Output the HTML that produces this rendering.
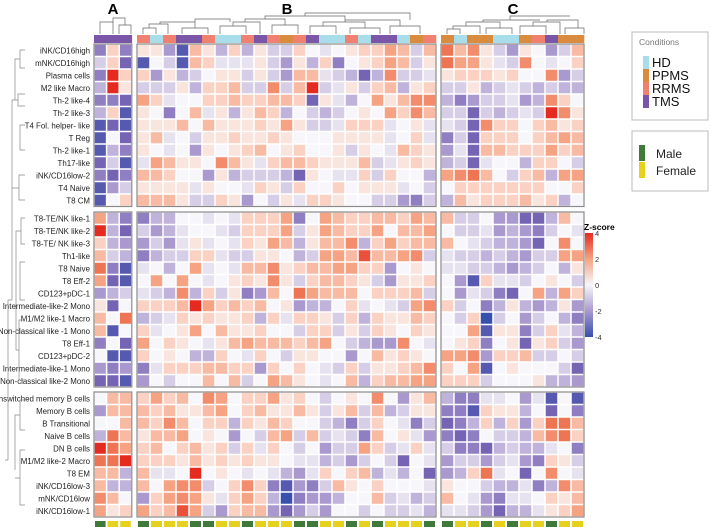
<!DOCTYPE html>
<html><head><meta charset="utf-8"><style>
body{margin:0;background:#fff;width:711px;height:529px;overflow:hidden;font-family:"Liberation Sans",sans-serif}
svg{display:block}
</style></head><body>
<svg id="chart" width="711" height="529" xmlns="http://www.w3.org/2000/svg"></svg>
<script>
const rowLabels=[["iNK/CD16high","mNK/CD16high","Plasma cells","M2 like Macro","Th-2 like-4","Th-2 like-3","T4 Fol. helper- like","T Reg","Th-2 like-1","Th17-like","iNK/CD16low-2","T4 Naive","T8 CM"],
["T8-TE/NK like-1","T8-TE/NK like-2","T8-TE/ NK like-3","Th1-like","T8 Naive","T8 Eff-2","CD123+pDC-1","Intermediate-like-2 Mono","M1/M2 like-1 Macro","Non-classical like -1 Mono","T8 Eff-1","CD123+pDC-2","Intermediate-like-1 Mono","Non-classical like-2 Mono"],
["Unswitched memory B cells","Memory B cells","B Transitional","Naive B cells","DN B cells","M1/M2 like-2 Macro","T8 EM","iNK/CD16low-3","mNK/CD16low","iNK/CD16low-1"]];
const condA=["TMS","TMS","TMS"];
const condB=["RRMS","HD","RRMS","TMS","TMS","RRMS","HD","HD","RRMS","TMS","RRMS","PPMS","RRMS","TMS","HD","HD","RRMS","HD","TMS","TMS","HD","PPMS","RRMS"];
const condC=["PPMS","HD","PPMS","PPMS","HD","HD","PPMS","RRMS","TMS","PPMS","PPMS"];
const sexA=["M","F","F"];
const sexB=["M","F","F","F","M","M","F","F","M","F","F","F","M","M","F","F","M","F","M","F","F","F","M"];
const sexC=["M","F","F","M","F","M","F","F","M","F","F"];
const zA1=[[-2.5,1,-2.5],[-1,1,-3],[-2.5,4,1],[-1.5,4,0.5],[-2.5,-2.5,-3],[-1.5,1,-3.5],[-3.5,-3,-3.5],[-3.5,0,-3],[-3.5,-1.5,-2.5],[-3,-1,-3.5],[-2.5,-3,-2.5],[-3.5,-2,-1],[-3.5,0,1]];
const zB1=[[0.5,0.5,-2,-3.5,1.5,0.5,-1.5,1,-1.5,0.5,-1,-1,1,0,-0.5,0,0.5,1,1,2,1.5,-1,1.5],
[-3.5,0,-1,-3.5,1.5,1,-0.5,-0.5,-0.5,0.5,-1,-2,0.5,-1.5,1,-2.5,0,0.5,1,2,1.5,-1,0.5],
[1,-2,0.5,-1.5,-1,0,0.5,0.5,-1,0.5,-1,-2,1.5,1.5,-0.5,-1,-1.5,-3,-1.5,2.5,-1,-1,-0.5],
[-1,-1,-1,0.5,-1.5,1,1,1.5,-1,-1,2.5,-1,1.5,4,-1,-0.5,0.5,-1,1,1.5,-1.5,0.5,1],
[2,1,-0.5,0,0,1,1,1.5,1,1,1.5,1.5,1,-3,0.5,-0.5,-1.5,0,2,0.5,1.5,2.5,2.5],
[0.5,0,-2.5,0,1.5,-0.5,0.5,-1.5,0.5,1.5,1,-1.5,0,-1,-1.5,-1,0,0.5,0,2,1,2.5,1.5],
[0.5,0.5,0.5,1.5,0,1.5,0.5,0.5,0.5,1,0.5,2,0.5,-1,-1,-0.5,1,1,1,-0.5,0,0.5,-0.5],
[0.5,1.5,-0.5,0,-1,0.5,0.5,1,0.5,0.5,1,0.5,0,0,0,0.5,0.5,0.5,0.5,-0.5,0,1,-0.5],
[0.5,0,-0.5,0,-2,0.5,0,0.5,1,1.5,0,0.5,1,0,0,0.5,-1,0.5,0,-0.5,1.5,1,0.5],
[-0.5,2,1.5,0.5,0.5,0,2.5,1.5,0.5,-0.5,1,1.5,1.5,1,0.5,0.5,0.5,1.5,-1,-0.5,0.5,1,0.5],
[1.5,1.5,1,0,0,-2,0.5,-1.5,-1,-1,-1,-1.5,-3,0.5,0,-0.5,-0.5,1,-1,1,0,0,-1.5],
[0.5,0.5,0.5,0.5,-0.5,0.5,0,0,-0.5,1,0.5,-1,1,0,0,1,0,0.5,0.5,0.5,-0.5,0,-1],
[1.5,1.5,1.5,0.5,-1,-1,1,0.5,-2,0,-1,0.5,-0.5,1,1,0.5,0,0,-1,-1,-2,-2.5,-1]];
const zC1=[[3,1.5,2.5,0.5,-1,-2,0.5,0,-2,-1,1.5],[3,2,2,0.5,-0.5,-1,2.5,0,-0.5,0,1],[0.5,1,1,1,0.5,1,0,0,2.5,-2,-1],[-1,-1,0.5,-1.5,-1,-0.5,-1,-1.5,-1,-1.5,-1.5],[-1.5,-2.5,-2,-1,-1,-0.5,-2,-1.5,2.5,1,0],[-1,-1,-3,-1,-1.5,-1,-0.5,-1,4,2.5,0.5],[-0.5,-1,-3,2.5,1,1,0,1,1.5,0.5,1],[-2.5,-1,-3,1,1,1,0,1,1.5,2,1.5],[-2,-0.5,-3,1.5,1.5,1,1,1,2,1,1.5],[-1.5,-1,-3,-0.5,0,0,-1.5,1,1,0,-1],[2,2.5,3,1.5,0,-1,1,1.5,-1.5,2,2],[0,1,1,1,1,1,1,1,0,0,1],[-1.5,1.5,0.5,1,1,1,1.5,0.5,1,-1.5,0]];
const zA2=[[2,-1.5,-2.5],[4,-1.5,-3],[1,-1.5,-2],[1.5,-1,-1.5],[3,-2.5,-3.5],[2,-3,-3.5],[-2,-1.5,-1],[0.5,-3,0],[1.5,0,3],[1.5,-3.5,0],[-2.5,0,-3],[0,-3.5,-3.5],[-2,-2.5,-2],[-3,-3,-3.5]];
const zB2=[[-2.5,-1.5,-1.5,0,0,-0.5,0,-0.5,1,1,1,2,-2.5,0,2,1.5,1,1,1.5,1.5,1,2,1.5],
[-1,-2,-1.5,-0.5,0,0,-0.5,-1,1,1,1,2,-1,0.5,2,1.5,1,1,2,0,1.5,1.5,2],
[-2,-1,-2,-0.5,0.5,-0.5,0,-0.5,1,0.5,2,1.5,-1.5,0.5,1.5,1.5,2.5,-1.5,1,2,1,1.5,1.5],
[-2.5,-1.5,-1,-1,1,1,-0.5,-1,-1,0.5,0.5,0,-1.5,-1,2,2,1.5,3.5,1.5,1.5,2,2.5,-1],
[-0.5,0,-1.5,0,2,-0.5,0,-0.5,1.5,1.5,2.5,0.5,1,1.5,1.5,2,2,1,1,-2,0,0.5,0],
[0,2,0,2,0,-0.5,0,0.5,1,0.5,2.5,0.5,-1,1,1.5,1.5,1,0.5,-1,-2,0.5,0.5,1],
[-0.5,-1,-1.5,2.5,-1.5,1,-1,0.5,-2.5,-2,1.5,0,3,2,1.5,1.5,1.5,0,1,1,1,1.5,-1],
[1,1,1,1.5,4,2,1,1.5,1,1.5,0,0.5,-2,-1.5,-1.5,0,1,-0.5,0,-0.5,-1,2,2.5],
[-1.5,-1,-0.5,1,0.5,1,0.5,0.5,1,-1.5,1,-0.5,1,1,0.5,-1,1,-1.5,1,0.5,0.5,1.5,1],
[1,-0.5,0,0.5,2,0,1.5,0.5,0.5,1,0,0,-1,1,1,-1,0.5,-1,1,0.5,0,1,0.5],
[2,0,1,0.5,0,-0.5,0.5,1.5,2,1.5,1.5,1.5,1,1.5,2,0,-1,-1.5,-2,-2,2.5,0,-0.5],
[1,0,0.5,0,-1.5,-1.5,1,0,-0.5,1,0,-1,0.5,0.5,0,0,-2,0,1.5,0.5,1,0.5,0],
[-2.5,-0.5,1,1,1,1.5,1.5,1,1,-2,1,0,1,0,-0.5,-1,1,-1,0.5,0.5,1,1.5,2.5],
[-2,0,-1,0,0,1.5,0,1.5,-1,0,2,1.5,0.5,0,-0.5,0,1.5,-1.5,1,1.5,1.5,2,2]];
const zC2=[[1.5,-1,-1,0,-2,-2,-3,-3,-1.5,1.5,0],[0,-1,-1,-0.5,-2,-1.5,-2,-2.5,-1,0,-0.5],[1.5,0,-0.5,-1,-1.5,-1.5,-2,-3,0,2.5,0],[-0.5,-1,-1,-1.5,-1,-1.5,-2,-1,-1,2,2],[-0.5,-0.5,-1,-1,-1.5,-2,-1.5,-1,0,-1.5,0.5],[0,-2,-3.5,1,-0.5,-0.5,-1,0,0.5,0,-1],[0,-2,-0.5,-1,-2.5,-3,0,2,-1.5,2,1],[1,-1,0,-2.5,-1.5,0.5,-1.5,-2,-1.5,0.5,-2],[0,-1,1,-4,-1,0,-2,-1,0,-1.5,-2.5],[0,0,2,-3.5,0.5,0.5,-2.5,-1,1,-0.5,-1.5],[0,0.5,1,-2.5,0,0.5,-3,0.5,1,-1,-2],[2,2,2.5,-2,1,1,1.5,-1,-1,0,-1],[1,0,2,-3.5,0,0.5,0,0,0,-1,-3],[1,1,1,-1,0,0,0,0.5,-1.5,-1.5,-2]];
const zA3=[[0,1.5,1.5],[-2,1.5,1.5],[0,0,1.5],[-1.5,3,1.5],[4,3,2],[3,3,4],[1.5,1.5,-1.5],[1.5,-1.5,-1.5],[2.5,1.5,0],[2,0.5,1]];
const zB3=[[1,2,1,1.5,0,2.5,2,0,1,1,2,0.5,1,0,-1,0,0.5,0,2.5,0,-2,0.5,1.5],
[1.5,1,1.5,0.5,0.5,1.5,2,0,1,1.5,0.5,0.5,1.5,0.5,-1,0.5,1.5,-1,1.5,-1.5,-1,0.5,0.5],
[1.5,1,2.5,1.5,0,1,1,-1.5,1,0.5,1.5,1,0,0,-1,-1.5,-2.5,-1,1,0,-0.5,-2.5,-1],
[0.5,1.5,1.5,2,0,0.5,0,-2,0,-1,1.5,2,-1,1.5,-1,-0.5,-1,-2.5,1.5,0,0.5,-0.5,-2],
[1,1.5,0,1,1.5,0.5,1,-1,1,-0.5,1,0,-1,0,-2,-1,-1,2,1,-1,-0.5,1,-0.5],
[1,1,1,0.5,1.5,0.5,1,0.5,1,0.5,0.5,0,-0.5,-0.5,-1.5,-1,-2,-1,0,-1,-3,0,-0.5],
[1.5,-0.5,-0.5,0,4,0,0.5,0,-0.5,0,-0.5,-1.5,-2,-0.5,1,0,1,1.5,-1.5,-0.5,-1.5,0,-3],
[1.5,0,2,2.5,2.5,-1,0,1,2.5,1,-2.5,-3.5,-2,-2.5,-1,1.5,0.5,0,1,0,0,0,-0.5],
[-2,1,2,2.5,2,0.5,-0.5,1,2,1,-1.5,-4,-2.5,-2,-2,-1.5,0,0,1.5,-1,-0.5,-1.5,-1],
[2,1,1.5,3.5,2,-1,-2,1,1.5,1.5,-2,-3,-2,-1,-2,0,0,-1,0,-1,-1,-0.5,-1.5]];
const zC3=[[-1.5,-2.5,-2.5,-0.5,-0.5,0,-2,-0.5,-3.5,0,-3.5],[-2.5,-2.5,-3.5,1,0.5,0.5,-1.5,0,-3,0,-2.5],[-3,-2.5,-1.5,1,-1.5,1,-2,1,3,3,1.5],[-2.5,-3,-2.5,0,-1,-1,-1.5,1.5,2.5,3,1],[-1,-2.5,-2.5,-3,-1.5,-1,-1.5,-1.5,-0.5,0,-2.5],[-2,-1,-1,-2,-1,-0.5,-2,-2.5,1,0.5,-1],[-2,-1.5,1,3,-0.5,0,-3,0,2.5,0,-0.5],[0.5,0,0,-1,-1.5,-1.5,-0.5,-2.5,-1.5,2.5,1.5],[1.5,0,-0.5,-2,-2.5,-0.5,-0.5,0,1,0.5,1.5],[-0.5,-0.5,-1,-2,-3,-1.5,-1.5,-0.5,0.5,1,2]];
const zTicks=[4,2,0,-2,-4];

const NS="http://www.w3.org/2000/svg";
const svg=document.getElementById('chart');
function mk(tag,attrs,parent){const e=document.createElementNS(NS,tag);for(const k in attrs)e.setAttribute(k,attrs[k]);(parent||svg).appendChild(e);return e;}
const negStops=[[247,246,250],[214,205,230],[169,153,207],[117,99,179],[53,81,173]];
const posStops=[[247,246,250],[250,209,194],[246,163,132],[238,117,83],[229,43,32]];
function color(v){v=Math.max(-4,Math.min(4,v));const st=v<0?negStops:posStops;const a=Math.abs(v);const i=Math.min(3,Math.floor(a));const t=a-i;const c=st[i].map((x,j)=>Math.round(x+(st[i+1][j]-x)*t));return `rgb(${c[0]},${c[1]},${c[2]})`;}
const condCol={HD:"#a8dde9",PPMS:"#d98b3e",RRMS:"#f08070",TMS:"#7a55a8"};
const sexCol={M:"#3f7a3a",F:"#e6d21e"};
const panels=[{x0:94,w:12.6,cond:condA,sex:sexA,data:[zA1,zA2,zA3],name:"a"},
{x0:137,w:13,cond:condB,sex:sexB,data:[zB1,zB2,zB3],name:"b"},
{x0:441,w:13,cond:condC,sex:sexC,data:[zC1,zC2,zC3],name:"c"}];
const groupY=[44,212,392];const rh=12.5;
function xs(p,i){return p.x0+i*p.w;}
function ys(g,r){return groupY[g]+r*rh;}
panels.forEach(p=>{
  p.cond.forEach((c,i)=>{const r=mk('rect',{x:xs(p,i),y:35,width:p.w+0.3,height:8,fill:condCol[c]});
    
    });
  p.sex.forEach((s,i)=>{const r=mk('rect',{x:xs(p,i)+1,y:521,width:p.w-2,height:6,fill:sexCol[s]});
    
    });
  p.data.forEach((rows,g)=>{
    rows.forEach((row,ri)=>row.forEach((v,ci)=>{
      const r=mk('rect',{x:xs(p,ci)+0.75,y:ys(g,ri)+0.75,width:p.w-1.5,height:rh-1.5,fill:color(v)});
      
      
    }));
    const b=mk('rect',{x:xs(p,0),y:ys(g,0),width:p.w*p.cond.length,height:rh*rows.length,fill:'none',stroke:'#8a8a8a','stroke-width':1.2});
    
    
  });
});
rowLabels.forEach((labs,g)=>labs.forEach((l,i)=>{
  const t=mk('text',{x:90,y:ys(g,i)+rh/2+3,'text-anchor':'end','font-size':'7.9',fill:'#222'});t.textContent=l;
  
  
}));
[["A",113],["B",287],["C",513]].forEach(([s,x])=>{const t=mk('text',{x:x,y:14,'text-anchor':'middle','font-size':'15','font-weight':'bold'});t.textContent=s;
  
  });
const dg=mk('g',{stroke:'#666','stroke-width':0.7,fill:'none'});


const dpaths=["M100 34V22H113V34 M113 22V18H125V22 M119 34V25H131V34 M125 25V22",
"M143 34V28H156V34 M149 28V24H168V34 M160 24V22H195V28 M182 34V28H208 V34 M195 22V19H230V22 M220 34V26H246V34 M233 26V22H260V34 M245 22V19H285V25 M272 34V25H298V34 M285 25V22 M265 19V16H345V22 M310 34V26H336V34 M323 26V22H365V28 M350 34V28H380V34 M345 22V20H400V26 M390 34V26H420V34 M305 16V13H410V20",
"M447 34V29H460V34 M453 29V26H480V34 M466 26V22H500V28 M486 34V28H512V34 M520 34V26H546V34 M533 26V22H560V34 M547 22V20H578V28 M565 34V28H584V34 M483 22V20H540 M510 20V16H570"];
dpaths.forEach(d=>mk('path',{d:d},dg));
const rg=mk('g',{stroke:'#888','stroke-width':0.7,fill:'none'});


mk('path',{d:"M25 50H20V68H25 M20 59H15V100 M25 94H18V106H25 M18 100H12V160 M25 125H20V150H25 M25 175H19V200H25 M19 188H12 M12 130V300 M25 218H21V244H25 M21 231H16V280 M25 262H20V300H25 M25 320H19V380H25 M19 350H16 M16 255V350 M12 300H8V460 M25 400H20V430H25 M20 415H15V470 M25 450H20V505H25 M20 478H15 M8 460H5"},rg);
const defs=mk('defs',{});
const lg=mk('linearGradient',{id:'zg',x1:0,y1:0,x2:0,y2:1},defs);
[[0,color(4)],[0.25,color(2)],[0.5,color(0)],[0.75,color(-2)],[1,color(-4)]].forEach(([o,c])=>mk('stop',{offset:o,'stop-color':c},lg));
const zr=mk('rect',{x:585,y:233,width:8,height:104,fill:'url(#zg)'});


const zt=mk('text',{x:584,y:230,'font-size':'8.5','font-weight':'bold'});zt.textContent='Z-score';


zTicks.forEach(v=>{const y=233+(4-v)/8*104;const t=mk('text',{x:595,y:y+3,'font-size':'7.5',fill:'#333'});t.textContent=v;
  
  });
const b1=mk('rect',{x:632,y:32,width:76,height:88,fill:'#fff',stroke:'#bbb','stroke-width':1});


const ct=mk('text',{x:639,y:45,'font-size':'8.5',fill:'#777'});ct.textContent='Conditions';


["HD","PPMS","RRMS","TMS"].forEach((c,i)=>{
  const s=mk('rect',{x:643,y:56+i*13,width:6,height:13,fill:condCol[c]});
  
  
  const t=mk('text',{x:652,y:67+i*13,'font-size':'13',fill:'#111'});t.textContent=c;
  
  
});
const b2=mk('rect',{x:632,y:131,width:76,height:60,fill:'#fff',stroke:'#bbb','stroke-width':1});


[["M","Male"],["F","Female"]].forEach(([k,l],i)=>{
  const s=mk('rect',{x:639,y:145+i*17,width:6,height:16,fill:sexCol[k]});
  
  
  const t=mk('text',{x:656,y:158+i*17,'font-size':'12',fill:'#222'});t.textContent=l;
  
  
});
</script>
</body></html>
